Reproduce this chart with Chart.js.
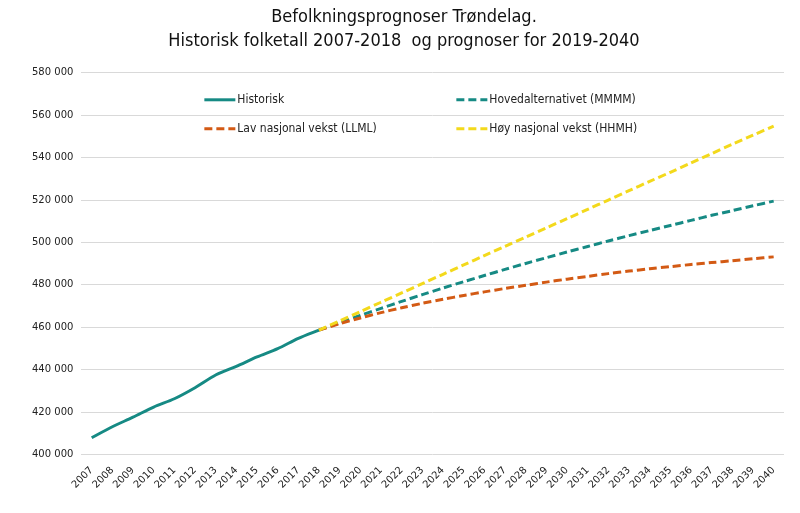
<!DOCTYPE html>
<html>
<head>
<meta charset="utf-8">
<script src="https://cdn.jsdelivr.net/npm/chart.js@4/dist/chart.umd.min.js"></script>
<style>
  html, body { margin: 0; padding: 0; background: #fff; }
  #boks { width: 800px; height: 513px; }
</style>
</head>
<body>
<div id="boks"><canvas id="graf"></canvas></div>
<script>
// ── Data ──────────────────────────────────────
const AAR = ['2007','2008','2009','2010','2011','2012','2013','2014','2015','2016','2017','2018',
  '2019','2020','2021','2022','2023','2024','2025','2026','2027','2028','2029','2030',
  '2031','2032','2033','2034','2035','2036','2037','2038','2039','2040']

// 2007-2018
const HISTORISK = [407900, 413100, 417600, 422400, 426300, 431500, 437500, 441600, 446000, 449900, 454800, 458700]

// 2018-2040
const HOVED = [458700, 462200, 465600, 468900, 472200, 475400, 478500, 481500, 484400, 487300, 490100,
  492800, 495500, 498100, 500700, 503200, 505600, 508000, 510400, 512800, 515000, 517300, 519500]
const LAV = [458700, 461700, 464400, 466900, 469200, 471300, 473200, 475000, 476700, 478300, 479800,
  481300, 482700, 484000, 485300, 486500, 487600, 488600, 489600, 490500, 491400, 492300, 493200]
const HOY = [458700, 463000, 467400, 471800, 476200, 480600, 485000, 489400, 493800, 498200, 502500,
  506900, 511200, 515600, 520000, 524400, 528800, 533100, 537500, 541900, 546300, 550600, 554900]

const Y_MIN = 400000
const Y_MAX = 580000
const Y_STEG = 20000

// historikk fyller første del, prognosene starter i 2018
const fyllHist = AAR.map((_, i) => i < HISTORISK.length ? HISTORISK[i] : null)
const start = HISTORISK.length - 1
const fyllProg = arr => AAR.map((_, i) => i < start ? null : arr[i - start])

const TEAL   = '#168a84'
const ORANSJE = '#d35a14'
const GUL    = '#f3d91c'
const FONT   = "'DejaVu Sans', Verdana, sans-serif"
const SMAL   = "'DejaVu Sans Condensed', 'DejaVu Sans', sans-serif"

const tusen = v => String(v).replace(/\B(?=(\d{3})+(?!\d))/g, ' ')

// ── Egen legende inni plottet (2 kolonner) ────
const legendeInne = {
  id: 'legendeInne',
  afterDraw(chart) {
    const { ctx, chartArea } = chart
    const kol = [123, 375]
    const rad = [27, 56]
    ctx.save()
    ctx.font = '12px ' + SMAL
    ctx.textBaseline = 'middle'
    chart.data.datasets.forEach((ds, i) => {
      const x = chartArea.left + kol[i % 2]
      const y = chartArea.top + rad[Math.floor(i / 2)]
      ctx.strokeStyle = ds.borderColor
      ctx.lineWidth = 3
      ctx.setLineDash(ds.borderDash || [])
      ctx.beginPath()
      ctx.moveTo(x, y)
      ctx.lineTo(x + 31, y)
      ctx.stroke()
      ctx.setLineDash([])
      ctx.fillStyle = '#222'
      ctx.fillText(ds.label, x + 33, y)
    })
    ctx.restore()
  }
}

new Chart(document.getElementById('graf'), {
  type: 'line',
  data: {
    labels: AAR,
    datasets: [
      { label: 'Historisk', data: fyllHist, borderColor: TEAL, order: 4 },
      { label: 'Hovedalternativet (MMMM)', data: fyllProg(HOVED), borderColor: TEAL, borderDash: [8, 4], order: 3 },
      { label: 'Lav nasjonal vekst (LLML)', data: fyllProg(LAV), borderColor: ORANSJE, borderDash: [8, 4], order: 2 },
      { label: 'Høy nasjonal vekst (HHMH)', data: fyllProg(HOY), borderColor: GUL, borderDash: [8, 4], order: 1 }
    ]
  },
  options: {
    responsive: true,
    maintainAspectRatio: false,
    animation: false,
    layout: { padding: { left: 24, right: 16, top: 0, bottom: 20 } },
    elements: {
      point: { radius: 0 },
      line: { borderWidth: 3, tension: 0.3, fill: false, borderCapStyle: 'butt' }
    },
    plugins: {
      legend: { display: false },
      tooltip: { enabled: false },
      title: {
        display: true,
        text: ['Befolkningsprognoser Trøndelag.', 'Historisk folketall 2007-2018  og prognoser for 2019-2040'],
        color: '#111',
        font: { family: SMAL, size: 18, weight: 'normal', lineHeight: 1.3 },
        padding: { top: 6, bottom: 20 }
      }
    },
    scales: {
      x: {
        offset: true,
        grid: { display: false },
        border: { display: false },
        ticks: {
          color: '#222', font: { family: FONT, size: 10 },
          minRotation: 45, maxRotation: 45, autoSkip: false, padding: 2
        }
      },
      y: {
        min: Y_MIN, max: Y_MAX,
        border: { display: false },
        grid: { color: '#d9d9d9', lineWidth: 1, drawTicks: false },
        ticks: {
          stepSize: Y_STEG, color: '#222', padding: 8,
          font: { family: FONT, size: 10 },
          callback: v => tusen(v)
        }
      }
    }
  },
  plugins: [legendeInne]
})
</script>
</body>
</html>
